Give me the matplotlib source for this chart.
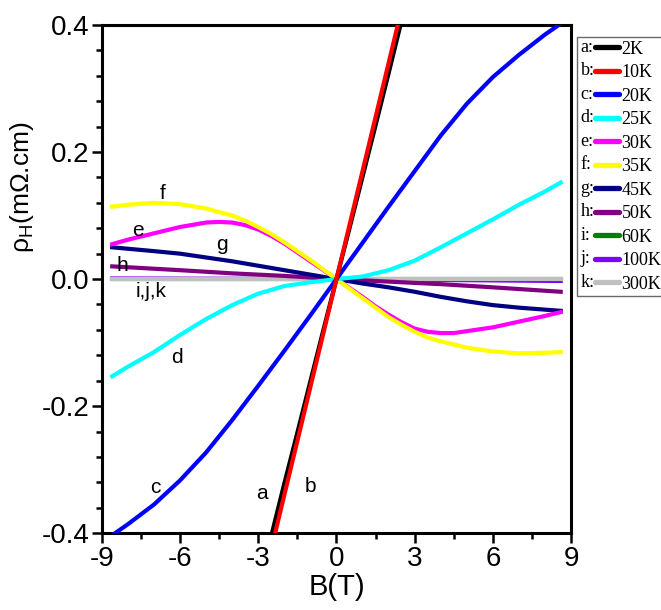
import numpy as np
import matplotlib
matplotlib.use('Agg')
import matplotlib.pyplot as plt
from matplotlib.legend_handler import HandlerBase
from matplotlib.lines import Line2D
from matplotlib.text import Text

plt.rcParams['font.family'] = 'Liberation Sans'
plt.rcParams['mathtext.fontset'] = 'custom'
plt.rcParams['mathtext.rm'] = 'Liberation Sans'
plt.rcParams['axes.unicode_minus'] = False

# ── DATA ────────────────────────────────────────────────────────────────────
temps = ['2K', '10K', '20K', '25K', '30K', '35K', '45K', '50K', '60K', '100K', '300K']
letters = ['a:', 'b:', 'c:', 'd:', 'e:', 'f:', 'g:', 'h:', 'i:', 'j:', 'k:']
colors = ['black', 'red', '#0000ff', '#00ffff', '#ff00ff', '#ffff00',
          '#000080', '#800080', '#008000', '#8000ff', '#c0c0c0']

B_a = [-2.6, -2.0, -1.5, -1.0, -0.5, 0, 0.5, 1.0, 1.5, 2.0, 2.6]
rho_a = [-0.421, -0.322, -0.242, -0.161, -0.080, 0, 0.080, 0.161, 0.242, 0.324, 0.424]

B_b = [-2.45, -2.0, -1.5, -1.0, -0.5, 0, 0.5, 1.0, 1.5, 2.0, 2.45]
rho_b = [-0.417, -0.340, -0.255, -0.170, -0.085, 0, 0.085, 0.170, 0.255, 0.340, 0.417]

B_c = [-8.7, -8, -7, -6, -5, -4, -3, -2, -1, 0, 1, 2, 3, 4, 5, 6, 7, 8, 8.7]
rho_c = [-0.406, -0.386, -0.355, -0.317, -0.273, -0.222, -0.168, -0.113, -0.057, 0,
         0.057, 0.114, 0.170, 0.226, 0.276, 0.318, 0.353, 0.385, 0.405]

B_d = [-8.6, -8, -7, -6, -5, -4, -3, -2, -1, 0, 1, 2, 3, 4, 5, 6, 7, 8, 8.6]
rho_d = [-0.153, -0.138, -0.115, -0.088, -0.063, -0.041, -0.023, -0.011, -0.005, 0,
         0.004, 0.014, 0.029, 0.050, 0.072, 0.094, 0.117, 0.138, 0.152]

B_e = [-8.6, -8, -7, -6, -5, -4.5, -4, -3.5, -3, -2.5, -2, -1.5, -1, -0.5, 0,
       0.5, 1, 1.5, 2, 2.5, 3, 3.5, 4, 4.5, 5, 6, 7, 8, 8.6]
rho_e = [0.055, 0.062, 0.072, 0.082, 0.089, 0.090, 0.089, 0.085, 0.078, 0.068, 0.056, 0.042, 0.028, 0.014, 0,
         -0.014, -0.028, -0.043, -0.056, -0.068, -0.078, -0.083, -0.085, -0.085, -0.082, -0.076, -0.067, -0.058, -0.052]

B_f = [-8.6, -8, -7, -6, -5, -4, -3.5, -3, -2.5, -2, -1.5, -1, -0.5, 0,
       0.5, 1, 1.5, 2, 2.5, 3, 3.5, 4, 5, 6, 7, 8, 8.6]
rho_f = [0.114, 0.117, 0.120, 0.118, 0.111, 0.100, 0.092, 0.082, 0.071, 0.058, 0.044, 0.030, 0.015, 0,
         -0.015, -0.030, -0.045, -0.060, -0.072, -0.083, -0.092, -0.098, -0.108, -0.114, -0.117, -0.116, -0.115]

B_g = [-8.6, -7, -6, -5, -4, -3, -2, -1, 0, 1, 2, 3, 4, 5, 6, 7, 8.6]
rho_g = [0.050, 0.044, 0.040, 0.034, 0.028, 0.021, 0.014, 0.007, 0,
         -0.007, -0.013, -0.020, -0.028, -0.035, -0.041, -0.045, -0.050]

B_h = [-8.6, -6, -4, -2, 0, 2, 4, 6, 8.6]
rho_h = [0.020, 0.014, 0.009, 0.005, 0, -0.004, -0.008, -0.013, -0.020]

B_i = [-8.6, 0, 8.6]
rho_i = [0.0, 0.0, 0.0]

B_j = [-8.6, 0, 8.6]
rho_j = [0.001, 0.0, -0.003]

B_k = [-8.6, 0, 8.6]
rho_k = [0.0, 0.0, 0.0]

Bs = [B_a, B_b, B_c, B_d, B_e, B_f, B_g, B_h, B_i, B_j, B_k]
rhos = [rho_a, rho_b, rho_c, rho_d, rho_e, rho_f, rho_g, rho_h, rho_i, rho_j, rho_k]
zorders = [11, 12, 10, 9, 7, 8, 6, 5, 3, 3.5, 4]


class LetterHandler(HandlerBase):
    """legend handle drawn as 'a:' followed by a short thick line"""
    def __init__(self, letter):
        super().__init__()
        self.letter = letter

    def create_artists(self, legend, orig_handle, xdescent, ydescent,
                       width, height, fontsize, trans):
        y = (height - ydescent) / 2
        t = Text(-xdescent, y, self.letter, fontsize=fontsize, va='center', ha='left',
                 family='Liberation Serif', transform=trans)
        ln = Line2D([-xdescent + 0.8 * fontsize, -xdescent + width], [y, y],
                    color=orig_handle.get_color(), lw=3.8, solid_capstyle='round',
                    transform=trans)
        return [t, ln]


# ── PLOT ─────────────────────────────────────────────────────────────────────
fig = plt.figure(figsize=(6.61, 6.10), dpi=100)
ax = fig.add_axes([0.154, 0.126, 0.710, 0.833])

lines = []
for B, r, c, z, t in zip(Bs, rhos, colors, zorders, temps):
    ln, = ax.plot(B, r, color=c, lw=3, zorder=z, label=t)
    lines.append(ln)

ax.set_xlim(-9, 9)
ax.set_ylim(-0.4, 0.4)
ax.set_xticks([-9, -6, -3, 0, 3, 6, 9])
ax.set_xticks(np.arange(-7.5, 9, 3), minor=True)
ax.set_yticks([-0.4, -0.2, 0.0, 0.2, 0.4])
ax.set_yticklabels(['-0.4', '-0.2', '0.0', '0.2', '0.4'])
ax.set_yticks(np.arange(-0.36, 0.4, 0.04), minor=True)
ax.tick_params(which='major', direction='out', length=7, width=1.8, labelsize=20, pad=2)
ax.tick_params(which='minor', direction='out', length=4, width=1.8)
for s in ax.spines.values():
    s.set_linewidth(2.2)

ax.set_xlabel('B(T)', fontsize=21, labelpad=1)
ax.set_ylabel(r'ρ$_\mathregular{H}$(mΩ.cm)', fontsize=19)
ax.yaxis.set_label_coords(-0.14, 0.68)

# curve letters
lbl = dict(fontsize=15, ha='center', va='center', zorder=20)
ax.text(-6.68, 0.135, 'f', **lbl)
ax.text(-7.6, 0.076, 'e', **lbl)
ax.text(-4.4, 0.054, 'g', **lbl)
ax.text(-8.2, 0.022, 'h', **lbl)
ax.text(-7.1, -0.019, 'i,j,k', **lbl)
ax.text(-6.1, -0.123, 'd', **lbl)
ax.text(-6.95, -0.328, 'c', **lbl)
ax.text(-2.86, -0.337, 'a', **lbl)
ax.text(-1.0, -0.326, 'b', **lbl)

leg = fig.legend(handles=lines, labels=temps, loc='upper left',
                 bbox_to_anchor=(577 / 661, 1 - 37 / 610),
                 handler_map={l: LetterHandler(k) for l, k in zip(lines, letters)},
                 prop={'family': 'Liberation Serif', 'size': 13},
                 frameon=True, fancybox=False, edgecolor='#444444',
                 handlelength=2.1, handletextpad=0.17, borderpad=0.2,
                 borderaxespad=0, labelspacing=0.36)
leg.get_frame().set_linewidth(1.0)

fig.savefig('out.png', dpi=100)
